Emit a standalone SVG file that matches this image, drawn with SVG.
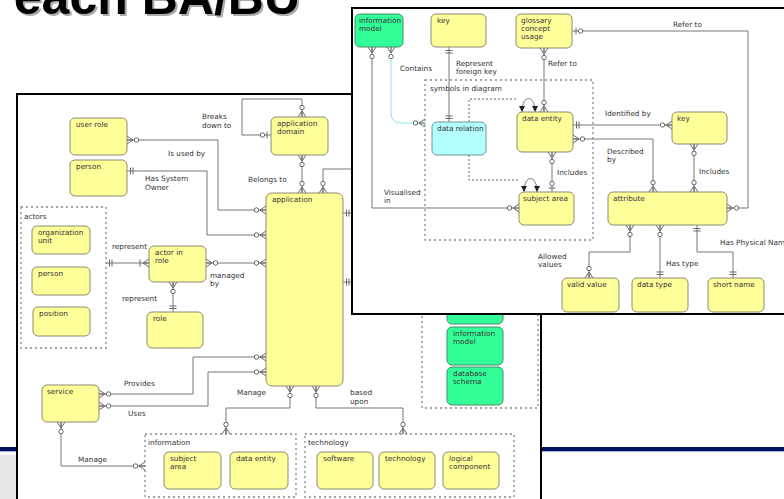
<svg xmlns="http://www.w3.org/2000/svg" width="784" height="499" viewBox="0 0 784 499">
<style>
.t{font-family:"DejaVu Sans",Verdana,sans-serif;font-size:7.3px;fill:#333}
.y{fill:#ffff99;stroke:#8a8a70;stroke-width:1}
.gr{fill:#33ff99;stroke:#4a8a6a;stroke-width:1}
.cy{fill:#b3ffff;stroke:#6a9a9a;stroke-width:1}
.grp{fill:none;stroke:#888;stroke-width:1.3;stroke-dasharray:2 3}
.ln{fill:none;stroke:#777;stroke-width:1}
.dl{fill:none;stroke:#666;stroke-width:1;stroke-dasharray:2 2}
.panel{fill:#fff;stroke:#000;stroke-width:2}
.title{font-family:"Liberation Sans",Arial,sans-serif;font-size:50px;font-weight:bold}
</style>
<defs>
<marker id="zm" viewBox="0 0 14 10" markerWidth="14" markerHeight="10" refX="14" refY="5" markerUnits="userSpaceOnUse" orient="auto-start-reverse">
<path d="M8,5 L14,1 M8,5 L14,5 M8,5 L14,9" fill="none" stroke="#666" stroke-width="1"/>
<circle cx="4.5" cy="5" r="2.2" fill="#fff" stroke="#666" stroke-width="1"/>
</marker>
<marker id="one" viewBox="0 0 14 10" markerWidth="14" markerHeight="10" refX="14" refY="5" markerUnits="userSpaceOnUse" orient="auto-start-reverse">
<path d="M8,1.5 V8.5 M10.5,1.5 V8.5" fill="none" stroke="#666" stroke-width="1"/>
</marker>
<marker id="zo" viewBox="0 0 14 10" markerWidth="14" markerHeight="10" refX="14" refY="5" markerUnits="userSpaceOnUse" orient="auto-start-reverse">
<path d="M10,1.5 V8.5" fill="none" stroke="#666" stroke-width="1"/>
<circle cx="5.5" cy="5" r="2.2" fill="#fff" stroke="#666" stroke-width="1"/>
</marker>
<marker id="om" viewBox="0 0 14 10" markerWidth="14" markerHeight="10" refX="14" refY="5" markerUnits="userSpaceOnUse" orient="auto-start-reverse">
<path d="M5,1.5 V8.5 M8,5 L14,1 M8,5 L14,5 M8,5 L14,9" fill="none" stroke="#666" stroke-width="1"/>
</marker>
<marker id="arr" viewBox="0 0 6 6" markerWidth="6" markerHeight="6" refX="6" refY="3" markerUnits="userSpaceOnUse" orient="auto-start-reverse">
<path d="M0,0 L6,3 L0,6 z" fill="#222"/>
</marker>
</defs>

<!-- slide background elements -->
<rect x="0" y="447" width="784" height="4" fill="#001060"/>
<rect x="0" y="451" width="784" height="1" fill="#aab4d8"/>
<rect x="0" y="455" width="17" height="44" fill="#e6e6e6"/>
<text class="title" x="302" y="16" text-anchor="end" fill="#aaa">each BA/BU</text>
<text class="title" x="300" y="14" text-anchor="end" fill="#000">each BA/BU</text>

<!-- LEFT PANEL -->
<rect class="panel" x="17" y="94" width="524" height="420"/>
<g id="left-groups">
<rect class="grp" x="21" y="207" width="85" height="141"/>
<text class="t" x="24" y="219">actors</text>
<rect class="grp" x="145" y="434" width="151" height="63"/>
<text class="t" x="148" y="445">information</text>
<rect class="grp" x="305" y="434" width="209" height="63"/>
<text class="t" x="308" y="445">technology</text>
<rect class="grp" x="422" y="290" width="116" height="118"/>
</g>
<g id="left-connectors">
<path class="ln" d="M127,140 H218 V210 H266" marker-start="url(#zm)" marker-end="url(#zm)"/>
<path class="ln" d="M127,171 H207 V235 H266" marker-start="url(#one)" marker-end="url(#zm)"/>
<path class="ln" d="M302,117 V99 H242 V135 H271" marker-start="url(#zm)" marker-end="url(#zo)"/>
<path class="ln" d="M302,155 V193" marker-start="url(#zm)" marker-end="url(#zm)"/>
<path class="ln" d="M323,193 V169 H360" marker-start="url(#zm)"/>
<path class="ln" d="M343,213 H360" marker-start="url(#one)"/>
<path class="ln" d="M343,282 H360" marker-start="url(#one)"/>
<path class="ln" d="M106,263 H149" marker-start="url(#one)" marker-end="url(#om)"/>
<path class="ln" d="M206,263 H266" marker-start="url(#zm)" marker-end="url(#zm)"/>
<path class="ln" d="M173,282 V312" marker-start="url(#zm)" marker-end="url(#one)"/>
<path class="ln" d="M99,394 H193 V357 H266" marker-start="url(#zm)" marker-end="url(#zm)"/>
<path class="ln" d="M99,406 H208 V372 H266" marker-start="url(#zm)" marker-end="url(#zm)"/>
<path class="ln" d="M61,422 V466 H145" marker-start="url(#zm)" marker-end="url(#zm)"/>
<path class="ln" d="M290,386 V408 H226 V434" marker-start="url(#zm)" marker-end="url(#zm)"/>
<path class="ln" d="M316,386 V408 H403 V434" marker-start="url(#zm)" marker-end="url(#zm)"/>
</g>
<g id="left-labels">
<text class="t" x="202" y="119">Breaks</text>
<text class="t" x="202" y="128">down to</text>
<text class="t" x="168" y="156">Is used by</text>
<text class="t" x="145" y="181">Has System</text>
<text class="t" x="145" y="190">Owner</text>
<text class="t" x="248" y="182">Belongs to</text>
<text class="t" x="112" y="249">represent</text>
<text class="t" x="122" y="301">represent</text>
<text class="t" x="210" y="278">managed</text>
<text class="t" x="210" y="286">by</text>
<text class="t" x="124" y="386">Provides</text>
<text class="t" x="128" y="416">Uses</text>
<text class="t" x="78" y="462">Manage</text>
<text class="t" x="237" y="395">Manage</text>
<text class="t" x="350" y="395">based</text>
<text class="t" x="350" y="404">upon</text>
</g>
<g id="user-role"><rect class="y" x="70" y="118" width="57" height="37" rx="5"/><text class="t" x="76" y="127">user role</text></g>
<g id="person"><rect class="y" x="70" y="160" width="57" height="36" rx="5"/><text class="t" x="76" y="169">person</text></g>
<g id="application-domain"><rect class="y" x="271" y="117" width="57" height="38" rx="5"/><text class="t" x="277" y="126">application</text><text class="t" x="277" y="134">domain</text></g>
<g id="application"><rect class="y" x="266" y="193" width="77" height="193" rx="6"/><text class="t" x="272" y="202">application</text></g>
<g id="organization-unit"><rect class="y" x="32" y="226" width="58" height="28" rx="5"/><text class="t" x="38" y="235">organization</text><text class="t" x="38" y="243">unit</text></g>
<g id="actor-person"><rect class="y" x="32" y="267" width="58" height="28" rx="5"/><text class="t" x="38" y="276">person</text></g>
<g id="position"><rect class="y" x="33" y="307" width="57" height="29" rx="5"/><text class="t" x="39" y="316">position</text></g>
<g id="actor-in-role"><rect class="y" x="149" y="246" width="57" height="36" rx="5"/><text class="t" x="155" y="255">actor in</text><text class="t" x="155" y="263">role</text></g>
<g id="role"><rect class="y" x="147" y="312" width="56" height="36" rx="5"/><text class="t" x="153" y="321">role</text></g>
<g id="service"><rect class="y" x="42" y="385" width="57" height="37" rx="5"/><text class="t" x="47" y="394">service</text></g>
<g id="info-subject-area"><rect class="y" x="164" y="452" width="57" height="37" rx="5"/><text class="t" x="170" y="461">subject</text><text class="t" x="170" y="469">area</text></g>
<g id="info-data-entity"><rect class="y" x="230" y="452" width="58" height="37" rx="5"/><text class="t" x="236" y="461">data entity</text></g>
<g id="software"><rect class="y" x="317" y="452" width="56" height="37" rx="5"/><text class="t" x="323" y="461">software</text></g>
<g id="technology"><rect class="y" x="379" y="452" width="56" height="37" rx="5"/><text class="t" x="385" y="461">technology</text></g>
<g id="logical-component"><rect class="y" x="443" y="452" width="56" height="37" rx="5"/><text class="t" x="449" y="461">logical</text><text class="t" x="449" y="469">component</text></g>
<g id="green-partial"><rect class="gr" x="447" y="288" width="56" height="36" rx="5"/></g>
<g id="green-information-model"><rect class="gr" x="447" y="327" width="56" height="38" rx="5"/><text class="t" x="453" y="336">information</text><text class="t" x="453" y="344">model</text></g>
<g id="database-schema"><rect class="gr" x="447" y="367" width="56" height="38" rx="5"/><text class="t" x="453" y="376">database</text><text class="t" x="453" y="384">schema</text></g>

<!-- RIGHT PANEL -->
<rect class="panel" x="352" y="8" width="440" height="306"/>
<g id="right-groups">
<rect class="grp" x="425" y="80" width="168" height="160"/>
<text class="t" x="430" y="91">symbols in diagram</text>
</g>
<g id="right-connectors">
<path class="ln" d="M572,31 H748 V208 H727" marker-start="url(#zo)" marker-end="url(#zm)"/>
<path class="ln" d="M372,47 V208 H519" marker-start="url(#zm)" marker-end="url(#zm)"/>
<path class="ln" d="M391,47 V113 Q391,123 401,123 H425" stroke="#80e8f0" style="stroke:#80e8f0" marker-start="url(#zm)" marker-end="url(#zm)"/>
<path class="ln" d="M449,47 V122" marker-start="url(#one)" marker-end="url(#one)"/>
<path class="ln" d="M544,48 V112" marker-start="url(#zm)" marker-end="url(#zm)"/>
<path class="ln" d="M552,152 V192" marker-start="url(#zm)" marker-end="url(#zo)"/>
<path class="ln" d="M573,125 H672" marker-start="url(#one)" marker-end="url(#zm)"/>
<path class="ln" d="M573,139 H653 V192" marker-start="url(#zm)" marker-end="url(#zm)"/>
<path class="ln" d="M694,144 V192" marker-start="url(#zm)" marker-end="url(#zm)"/>
<path class="ln" d="M630,225 V252 H589 V278" marker-start="url(#zm)" marker-end="url(#zm)"/>
<path class="ln" d="M660,225 V278" marker-start="url(#zm)" marker-end="url(#one)"/>
<path class="ln" d="M697,225 V252 H733 V278" marker-start="url(#one)" marker-end="url(#one)"/>
<path class="dl" d="M469,122 V99 H516"/>
<path class="ln" d="M522,112 C522,94 535,94 535,112" marker-start="url(#arr)" marker-end="url(#arr)"/>
<path class="dl" d="M469,155 V180 H518"/>
<path class="ln" d="M524,192 C524,174 537,174 537,192" marker-start="url(#arr)" marker-end="url(#arr)"/>
</g>
<g id="right-labels">
<text class="t" x="673" y="27">Refer to</text>
<text class="t" x="400" y="71">Contains</text>
<text class="t" x="456" y="66">Represent</text>
<text class="t" x="456" y="74">foreign key</text>
<text class="t" x="548" y="66">Refer to</text>
<text class="t" x="605" y="116">Identified by</text>
<text class="t" x="607" y="154">Described</text>
<text class="t" x="607" y="162">by</text>
<text class="t" x="557" y="175">Includes</text>
<text class="t" x="699" y="174">Includes</text>
<text class="t" x="384" y="195">Visualised</text>
<text class="t" x="384" y="203">in</text>
<text class="t" x="538" y="259">Allowed</text>
<text class="t" x="538" y="267">values</text>
<text class="t" x="666" y="266">Has type</text>
<text class="t" x="720" y="245">Has Physical Name</text>
</g>
<g id="information-model"><rect class="gr" x="355" y="14" width="48" height="33" rx="5"/><text class="t" x="359" y="23">information</text><text class="t" x="359" y="31">model</text></g>
<g id="key"><rect class="y" x="431" y="14" width="55" height="33" rx="5"/><text class="t" x="437" y="23">key</text></g>
<g id="glossary-concept-usage"><rect class="y" x="516" y="14" width="56" height="34" rx="5"/><text class="t" x="521" y="23">glossary</text><text class="t" x="521" y="31">concept</text><text class="t" x="521" y="39">usage</text></g>
<g id="data-relation"><rect class="cy" x="432" y="122" width="54" height="33" rx="5"/><text class="t" x="437" y="131">data relation</text></g>
<g id="data-entity"><rect class="y" x="517" y="112" width="56" height="40" rx="5"/><text class="t" x="522" y="121">data entity</text></g>
<g id="subject-area"><rect class="y" x="519" y="192" width="55" height="33" rx="5"/><text class="t" x="523" y="201">subject area</text></g>
<g id="key2"><rect class="y" x="672" y="112" width="55" height="32" rx="5"/><text class="t" x="677" y="121">key</text></g>
<g id="attribute"><rect class="y" x="608" y="192" width="119" height="33" rx="5"/><text class="t" x="613" y="201">attribute</text></g>
<g id="valid-value"><rect class="y" x="562" y="278" width="57" height="34" rx="5"/><text class="t" x="567" y="287">valid value</text></g>
<g id="data-type"><rect class="y" x="632" y="278" width="56" height="34" rx="5"/><text class="t" x="637" y="287">data type</text></g>
<g id="short-name"><rect class="y" x="708" y="278" width="56" height="34" rx="5"/><text class="t" x="713" y="287">short name</text></g>
</svg>
